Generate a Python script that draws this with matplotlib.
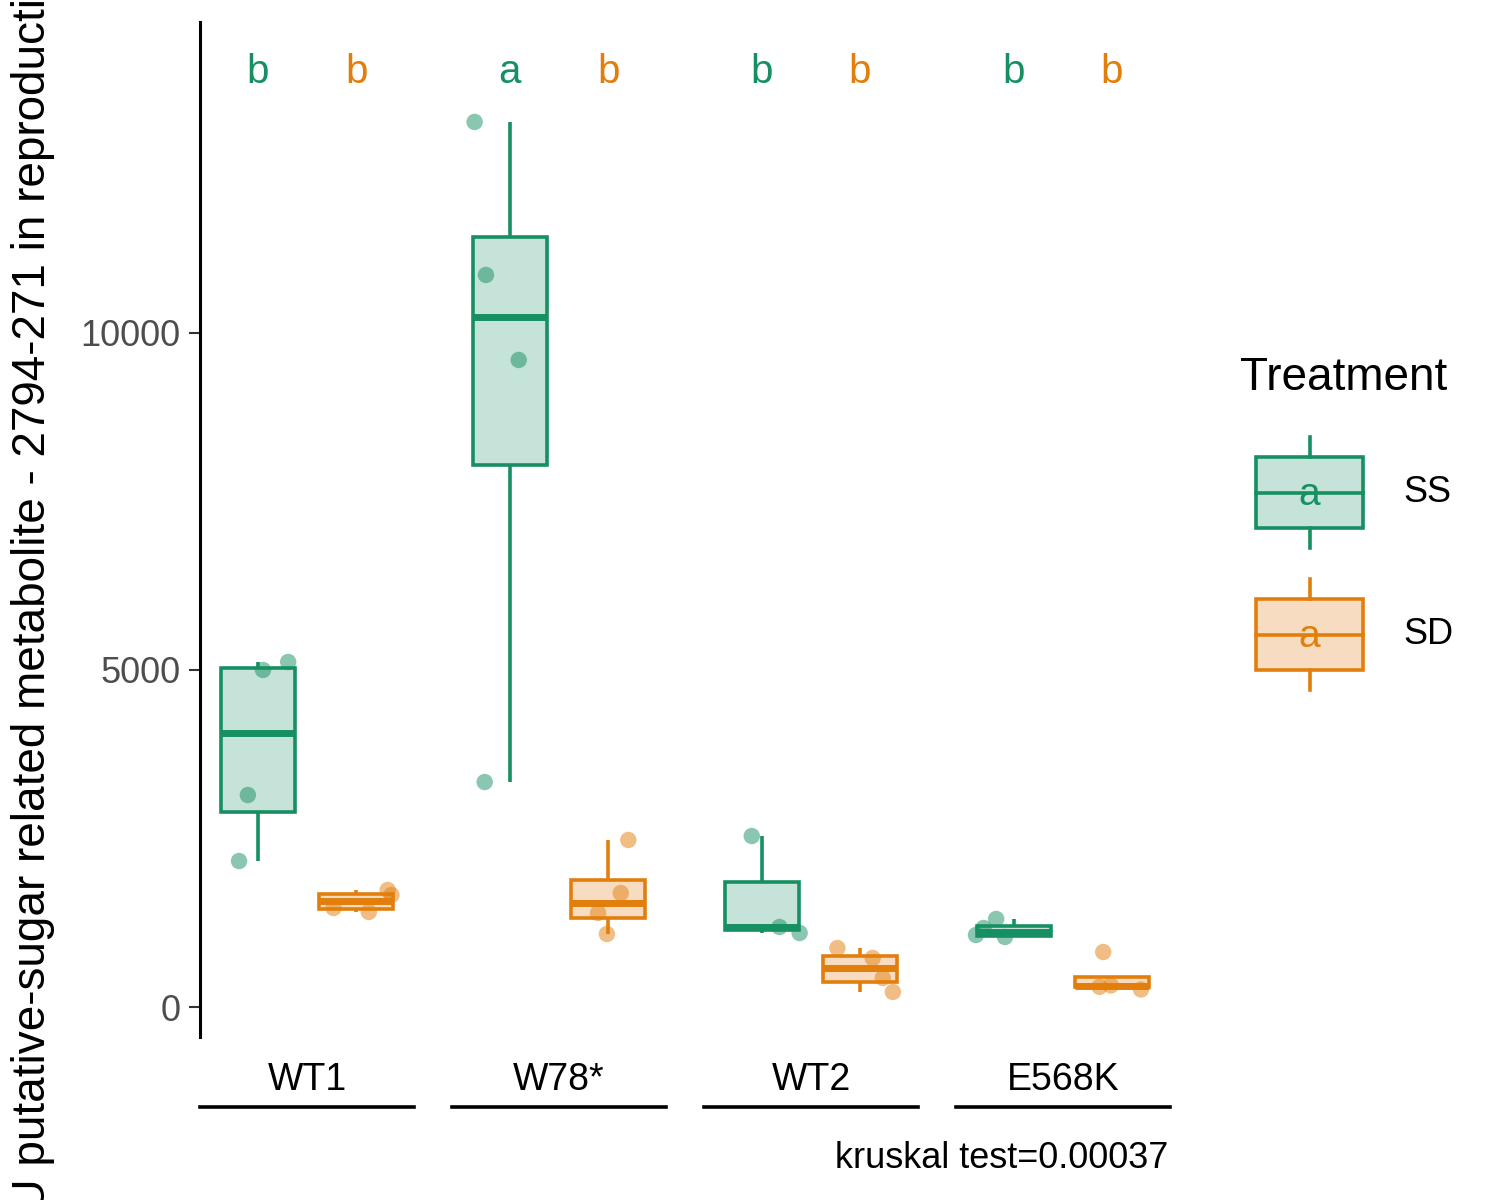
"""Box plot of a putative sugar-related metabolite by genotype and treatment."""

import matplotlib
matplotlib.use("Agg")
import matplotlib.pyplot as plt
import numpy as np
from matplotlib.patches import Rectangle
from matplotlib.transforms import blended_transform_factory

plt.rcParams["font.family"] = ["Liberation Sans", "DejaVu Sans"]

# --- data ---
genotypes = ["WT1", "W78*", "WT2", "E568K"]
treatments = ["SS", "SD"]

ss_values = [
    [5000, 5119, 3145, 2166],
    [13131, 10861, 9600, 3338],
    [2537, 1187, 1098],
    [1068, 1172, 1306, 1039],
]
sd_values = [
    [1736, 1662, 1469, 1410],
    [2478, 1691, 1395, 1083],
    [875, 727, 430, 223],
    [816, 300, 320, 260],
]
# horizontal jitter of the points (category units), as seen in the picture
ss_jitter = [
    [0.02, 0.12, -0.04, -0.075],
    [-0.14, -0.095, 0.035, -0.10],
    [-0.04, 0.07, 0.15],
    [-0.15, -0.12, -0.07, -0.035],
]
sd_jitter = [
    [0.125, 0.14, -0.09, 0.05],
    [0.08, 0.05, -0.04, -0.005],
    [-0.09, 0.05, 0.09, 0.13],
    [-0.035, -0.05, -0.005, 0.115],
]
ss_letters = ["b", "a", "b", "b"]
sd_letters = ["b", "b", "b", "b"]
kruskal_label = "kruskal test=0.00037"
y_label = "AU putative-sugar related metabolite - 2794-271 in reproductive tissue"

COLORS = {"SS": "#168F62", "SD": "#E27F0C"}
FILLS = {"SS": "#C5E3D8", "SD": "#F8DCC1"}
DODGE = 0.195
BOX_W = 0.295


def box_stats(vals):
    v = np.sort(np.asarray(vals, dtype=float))
    q1, med, q3 = np.percentile(v, [25, 50, 75])
    iqr = q3 - q1
    lo = v[v >= q1 - 1.5 * iqr].min()
    hi = v[v <= q3 + 1.5 * iqr].max()
    return q1, med, q3, lo, hi


def draw_box(ax, x, vals, trt):
    q1, med, q3, lo, hi = box_stats(vals)
    col = COLORS[trt]
    ax.plot([x, x], [q3, hi], color=col, lw=2.6, solid_capstyle="butt", zorder=2)
    ax.plot([x, x], [lo, q1], color=col, lw=2.6, solid_capstyle="butt", zorder=2)
    ax.add_patch(Rectangle((x - BOX_W / 2, q1), BOX_W, q3 - q1,
                           facecolor=FILLS[trt], edgecolor=col, lw=2.6, zorder=3))
    ax.plot([x - BOX_W / 2, x + BOX_W / 2], [med, med], color=col, lw=5,
            solid_capstyle="butt", zorder=4)


fig = plt.figure(figsize=(15, 12), dpi=100)
ax = fig.add_axes([200 / 1500, 1 - 1037 / 1200, 970 / 1500, 1015 / 1200])

for i, g in enumerate(genotypes):
    xc = i + 1
    for trt, vals, jit, letters, sign in (
        ("SS", ss_values, ss_jitter, ss_letters, -1),
        ("SD", sd_values, sd_jitter, sd_letters, 1),
    ):
        x = xc + sign * DODGE
        draw_box(ax, x, vals[i], trt)
        ax.scatter(np.array(jit[i]) + x, vals[i], s=140, color=COLORS[trt],
                   alpha=0.5, edgecolors="none", zorder=5)
        ax.text(x, 13870, letters[i], color=COLORS[trt], fontsize=29,
                ha="center", va="center")

ax.set_xlim(0.575, 4.425)
ax.set_ylim(-445, 14614)
ax.set_yticks([0, 5000, 10000])
ax.set_yticklabels(["0", "5000", "10000"])
ax.tick_params(axis="y", length=8, width=1.5, labelsize=26, labelcolor="#4D4D4D",
               color="#333333", pad=6)
ax.set_xticks(range(1, len(genotypes) + 1))
ax.set_xticklabels(genotypes)
ax.tick_params(axis="x", length=0, labelsize=27, pad=18)
for s in ("top", "right", "bottom"):
    ax.spines[s].set_visible(False)
ax.spines["left"].set_linewidth(2.2)

# group underline bars below tick labels
trans = blended_transform_factory(ax.transData, fig.transFigure)
for i in range(len(genotypes)):
    ax.plot([i + 1 - 0.425, i + 1 + 0.425], [1 - 1107 / 1200] * 2, color="black",
            lw=2.6, transform=trans, clip_on=False)

fig.text(1168 / 1500, 1 - 1158 / 1200, kruskal_label, ha="right", va="center",
         fontsize=26)
fig.text(33 / 1500, 1 - 530 / 1200, y_label, rotation=90, ha="center",
         va="center", fontsize=33)

# legend drawn by hand
leg = fig.add_axes([0, 0, 1, 1], facecolor="none")
leg.set_xlim(0, 1500)
leg.set_ylim(1200, 0)
leg.axis("off")
leg.text(1240, 378, "Treatment", fontsize=33, ha="left", va="center")
for trt, top in (("SS", 457), ("SD", 599)):
    col = COLORS[trt]
    leg.plot([1310, 1310], [top - 20, top], color=col, lw=2.6)
    leg.plot([1310, 1310], [top + 71, top + 91], color=col, lw=2.6)
    leg.add_patch(Rectangle((1256, top), 107, 71, facecolor=FILLS[trt],
                            edgecolor=col, lw=2.6))
    leg.plot([1256, 1363], [top + 35.5, top + 35.5], color=col, lw=2.6)
    leg.text(1309, top + 38, "a", color=col, fontsize=28, ha="center", va="center")
    leg.text(1403, top + 36, trt, fontsize=26, ha="left", va="center")

fig.savefig("out.png", dpi=100)
